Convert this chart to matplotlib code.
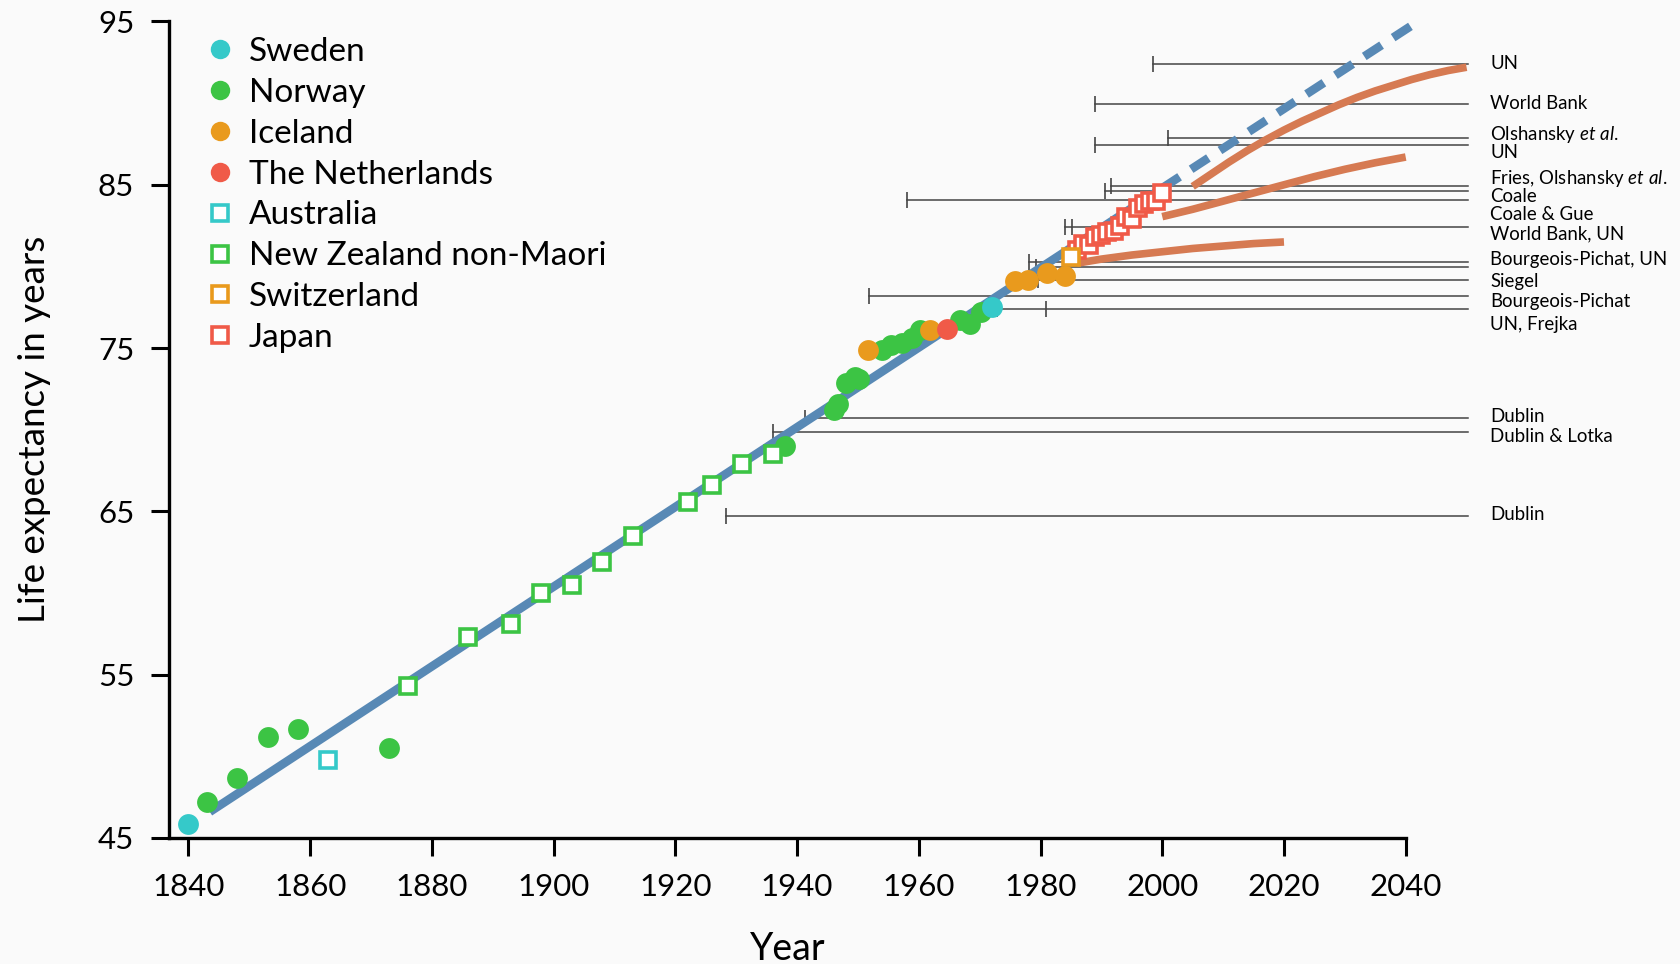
import matplotlib.pyplot as plt
from matplotlib.lines import Line2D

plt.rcParams['font.family'] = ['Lato', 'DejaVu Sans']
plt.rcParams['mathtext.fontset'] = 'custom'
plt.rcParams['mathtext.rm'] = 'Lato'
plt.rcParams['mathtext.it'] = 'Lato:italic'

# record female life expectancy, by country holding the record
sweden_year = [1840, 1972]
sweden_le = [45.85, 77.5]
norway_year = [1843, 1848, 1853, 1858, 1873, 1938, 1946, 1946.8, 1948, 1949.5, 1950.2,
               1953.9, 1955.5, 1957.2, 1958.8, 1960.2, 1966.7, 1968.4, 1970.2]
norway_le = [47.2, 48.7, 51.2, 51.7, 50.5, 69.0, 71.2, 71.6, 72.85, 73.2, 73.1,
             74.9, 75.2, 75.3, 75.6, 76.1, 76.7, 76.5, 77.2]
iceland_year = [1951.7, 1961.8, 1975.8, 1978, 1981, 1984]
iceland_le = [74.9, 76.1, 79.1, 79.2, 79.6, 79.4]
netherlands_year = [1964.6]
netherlands_le = [76.2]
australia_year = [1863]
australia_le = [49.8]
nz_year = [1876, 1886, 1893, 1898, 1903, 1908, 1913, 1922, 1926, 1931, 1936]
nz_le = [54.3, 57.3, 58.1, 60.0, 60.5, 61.9, 63.5, 65.6, 66.6, 67.9, 68.5]
swiss_year = [1985]
swiss_le = [80.55]
japan_year = [1986, 1987, 1988, 1989, 1990, 1991, 1992, 1993, 1994, 1995, 1996, 1997, 1998, 1999, 2000]
japan_le = [81.0, 81.4, 81.3, 81.8, 81.9, 82.1, 82.2, 82.5, 83.0, 82.9, 83.6, 83.8, 84.0, 84.0, 84.5]

# best-practice trend and its extrapolation
trend_year = [1843.5, 2000]
trend_le = [46.6, 84.8]
extrap_year = [2000, 2042]
extrap_le = [84.8, 95.0]

# published forecasts (orange curves)
fc1_year = [2005, 2008, 2011, 2014, 2017, 2020, 2023, 2026, 2029, 2032, 2035, 2038, 2041, 2044, 2047, 2050]
fc1_le = [84.9, 85.65, 86.4, 87.1, 87.75, 88.35, 88.9, 89.4, 89.9, 90.35, 90.75, 91.1, 91.45, 91.75, 92.0, 92.2]
fc2_year = [2000, 2005, 2010, 2015, 2020, 2025, 2030, 2035, 2040]
fc2_le = [83.05, 83.5, 84.0, 84.5, 85.0, 85.5, 85.95, 86.35, 86.7]
fc3_year = [1986, 1990, 1995, 2000, 2005, 2010, 2015, 2020]
fc3_le = [80.2, 80.45, 80.7, 80.9, 81.1, 81.25, 81.4, 81.5]

# asserted ceilings: level and years of publication
ceiling_le = [92.4, 89.95, 87.85, 87.45, 84.95, 84.65, 84.05, 82.4, 80.3, 79.95, 79.2,
              78.2, 77.4, 70.7, 69.85, 64.7]
ceiling_pub = [[1998.5], [1989], [2001], [1989], [1991.6], [1990.6], [1958.1], [1984.1, 1985.1],
               [1978.1], [1979.3], [1979.6], [1951.8], [1972.9, 1980.9], [1941.3], [1936.1], [1928.4]]
ceiling_end = 2050.2
ceiling_names = ['UN', 'World Bank', r'Olshansky $\it{et\ al.}$', 'UN',
                 r'Fries, Olshansky $\it{et\ al.}$', 'Coale', 'Coale & Gue', 'World Bank, UN',
                 'Bourgeois-Pichat, UN', 'Siegel', 'Bourgeois-Pichat', 'UN, Frejka',
                 'Dublin', 'Dublin & Lotka', 'Dublin']
name_le = [92.4, 90.0, 88.1, 87.0, 85.4, 84.3, 83.2, 82.0, 80.4, 79.05, 77.85, 76.45,
           70.8, 69.6, 64.8]

cyan = '#35c9c9'
green = '#3cc444'
amber = '#e99a1d'
red = '#f05a48'
blue = '#5889b5'
rust = '#d67a52'
bg = '#fafafa'

fig = plt.figure(figsize=(16.8, 9.64), dpi=100, facecolor=bg)
ax = fig.add_axes([169 / 1680, 1 - 838 / 964, 1236.7 / 1680, 816.5 / 964])
ax.set_facecolor(bg)

for le, pubs in zip(ceiling_le, ceiling_pub):
    ax.plot([min(pubs), ceiling_end], [le, le], color='#444444', lw=1.1, zorder=2, clip_on=False)
    ax.plot(pubs, [le] * len(pubs), ls='none', marker='|', ms=11, mew=1.2,
            color='#444444', zorder=2, clip_on=False)
for name, y in zip(ceiling_names, name_le):
    ax.text(2053.9, y, name, fontsize=13.4, va='center', ha='left', clip_on=False)

for yr, le in [(fc1_year, fc1_le), (fc2_year, fc2_le), (fc3_year, fc3_le)]:
    ax.plot(yr, le, color=rust, lw=5.5, solid_capstyle='butt', solid_joinstyle='round',
            zorder=3, clip_on=False)

ax.plot(trend_year, trend_le, color=blue, lw=6.2, solid_capstyle='butt', zorder=3)
ax.plot(extrap_year, extrap_le, color=blue, lw=6.2, dashes=(2.4, 1.6), dash_capstyle='butt',
        zorder=3, clip_on=False)

circ = dict(ls='none', marker='o', ms=15, mew=0, clip_on=False)
sq = dict(ls='none', marker='s', ms=11.5, mew=2.6, mfc='white', clip_on=False)
ax.plot(norway_year, norway_le, color=green, zorder=4, **circ)
ax.plot(iceland_year, iceland_le, color=amber, zorder=5, **circ)
ax.plot(netherlands_year, netherlands_le, color=red, zorder=5, **circ)
ax.plot(sweden_year, sweden_le, color=cyan, zorder=6, **circ)
ax.plot(australia_year, australia_le, mec=cyan, zorder=4, **sq)
ax.plot(nz_year, nz_le, mec=green, zorder=4, **sq)
ax.plot(japan_year, japan_le, mec=red, zorder=4, **sq)
ax.plot(swiss_year, swiss_le, mec=amber, zorder=5, **sq)

ax.set_xlim(1836.8, 2040)
ax.set_ylim(45, 95)
ax.set_xticks(range(1840, 2041, 20))
ax.set_yticks(range(45, 96, 10))
for s in ['top', 'right']:
    ax.spines[s].set_visible(False)
for s in ['left', 'bottom']:
    ax.spines[s].set_linewidth(2.4)
ax.tick_params(direction='out', length=13, width=2.2, labelsize=22.5, pad=12)
ax.set_xlabel('Year', fontsize=27, labelpad=22)
ax.set_ylabel('Life expectancy in years', fontsize=26.5, labelpad=34)

handles = [
    Line2D([], [], ls='none', marker='o', ms=14, mew=0, color=cyan),
    Line2D([], [], ls='none', marker='o', ms=14, mew=0, color=green),
    Line2D([], [], ls='none', marker='o', ms=14, mew=0, color=amber),
    Line2D([], [], ls='none', marker='o', ms=14, mew=0, color=red),
    Line2D([], [], ls='none', marker='s', ms=11.5, mew=2.6, mfc='white', mec=cyan),
    Line2D([], [], ls='none', marker='s', ms=11.5, mew=2.6, mfc='white', mec=green),
    Line2D([], [], ls='none', marker='s', ms=11.5, mew=2.6, mfc='white', mec=amber),
    Line2D([], [], ls='none', marker='s', ms=11.5, mew=2.6, mfc='white', mec=red),
]
labels = ['Sweden', 'Norway', 'Iceland', 'The Netherlands', 'Australia',
          'New Zealand non-Maori', 'Switzerland', 'Japan']
ax.legend(handles, labels, loc='upper left', bbox_to_anchor=(207 / 1680, 1 - 37 / 964),
          bbox_transform=fig.transFigure, frameon=False, fontsize=24, handlelength=0.75,
          handletextpad=0.5, labelspacing=0.325, borderpad=0, borderaxespad=0)

fig.savefig('out.png', dpi=100, facecolor=bg)
